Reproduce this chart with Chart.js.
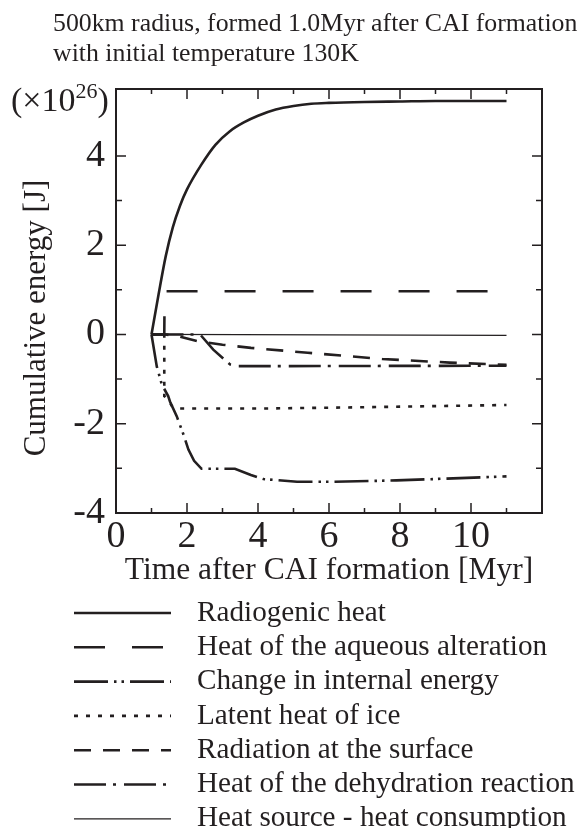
<!DOCTYPE html>
<html>
<head>
<meta charset="utf-8">
<title>Cumulative energy</title>
<script src="https://cdn.jsdelivr.net/npm/chart.js@4/dist/chart.umd.min.js"></script>
<style>
  html, body { margin: 0; padding: 0; background: #fff; }
  #wrap { width: 579px; height: 828px; position: relative; }
</style>
</head>
<body>
<div id="wrap"><canvas id="energyChart"></canvas></div>
<script>
// ---- data (energy in 1e26 J, time in Myr) ----
const radioT = [1.0, 1.2, 1.4, 1.6, 1.8, 2.0, 2.4, 2.8, 3.2, 3.6, 4.0, 4.5, 5.0, 5.5, 6.0, 7.0, 8.0, 9.0, 10.0, 11.0];
const radioE = [0, 0.9, 1.75, 2.4, 2.88, 3.25, 3.8, 4.25, 4.55, 4.75, 4.9, 5.04, 5.12, 5.17, 5.19, 5.21, 5.22, 5.23, 5.23, 5.23];

const aqueousT = [1.0, 1.36, 1.37, 11.0];
const aqueousE = [0, 0, 0.97, 0.97];

const internalT = [1.0, 1.15, 1.29, 1.47, 1.52, 1.71, 1.9, 2.04, 2.2, 2.41, 3.35, 3.8, 4.15, 5.1, 6.1, 7.9, 11.0];
const internalE = [0, -0.72, -1.12, -1.38, -1.5, -1.83, -2.24, -2.58, -2.83, -3.01, -3.01, -3.15, -3.24, -3.3, -3.3, -3.27, -3.18];

const iceT = [1.0, 1.36, 1.36, 1.47, 1.57, 1.7, 4.0, 7.0, 11.0];
const iceE = [0, 0, -1.38, -1.46, -1.6, -1.66, -1.66, -1.63, -1.58];

const surfaceT = [1.0, 1.4, 1.8, 2.3, 3.0, 3.8, 5.4, 7.5, 9.4, 11.0];
const surfaceE = [0, 0, -0.05, -0.15, -0.23, -0.3, -0.41, -0.55, -0.63, -0.68];

const dehydT = [1.0, 2.37, 2.74, 3.21, 3.4, 11.0];
const dehydE = [0, 0, -0.34, -0.67, -0.71, -0.70];

const netT = [1.0, 11.0];
const netE = [0, -0.02];

const xTickLabels = [0, 2, 4, 6, 8, 10];
const yTickLabels = [-4, -2, 0, 2, 4];

const titleLines = ['500km radius, formed 1.0Myr after CAI formation', 'with initial temperature 130K'];
const seriesNames = [
  'Radiogenic heat',
  'Heat of the aqueous alteration',
  'Change in internal energy',
  'Latent heat of ice',
  'Radiation at the surface',
  'Heat of the dehydration reaction',
  'Heat source - heat consumption'
];

const ink = '#231f20';
const serif = "'Liberation Serif', 'Times New Roman', serif";

const pts = (t, e) => t.map((v, i) => ({ x: v, y: e[i] }));

const datasets = [
  { label: seriesNames[0], data: pts(radioT, radioE), borderWidth: 2.6, borderDash: [], cubicInterpolationMode: 'monotone' },
  { label: seriesNames[1], data: pts(aqueousT, aqueousE), borderWidth: 2.6, borderDash: [31, 27] },
  { label: seriesNames[2], data: pts(internalT, internalE), borderWidth: 2.6, borderDash: [34, 6, 2.5, 5, 2.5, 6] },
  { label: seriesNames[3], data: pts(iceT, iceE), borderWidth: 2.6, borderDash: [4, 8] },
  { label: seriesNames[4], data: pts(surfaceT, surfaceE), borderWidth: 2.6, borderDash: [17, 12] },
  { label: seriesNames[5], data: pts(dehydT, dehydE), borderWidth: 2.6, borderDash: [32, 7, 3, 8] },
  { label: seriesNames[6], data: pts(netT, netE), borderWidth: 1.2, borderDash: [] }
].map(d => Object.assign({ borderColor: ink, backgroundColor: ink, pointRadius: 0, fill: false, tension: 0 }, d));

/* ---------- frame, inward ticks, title, y title, multiplier and legend ---------- */
const decorations = {
  id: 'decorations',
  afterDraw(chart) {
    const { ctx, chartArea: a, scales: { x, y } } = chart;
    ctx.save();
    ctx.strokeStyle = ink;
    ctx.fillStyle = ink;
    ctx.setLineDash([]);

    // frame
    ctx.lineWidth = 2;
    ctx.strokeRect(a.left, a.top, a.right - a.left, a.bottom - a.top);

    // inward ticks
    ctx.lineWidth = 1.5;
    x.ticks.forEach(t => {
      if (!Number.isInteger(t.value)) return;
      const px = x.getPixelForValue(t.value);
      const len = t.value % 2 === 0 ? 10 : 5;
      ctx.beginPath();
      ctx.moveTo(px, a.bottom); ctx.lineTo(px, a.bottom - len);
      ctx.moveTo(px, a.top); ctx.lineTo(px, a.top + len);
      ctx.stroke();
    });
    y.ticks.forEach(t => {
      if (!Number.isInteger(t.value)) return;
      const py = y.getPixelForValue(t.value);
      const len = t.value % 2 === 0 ? 10 : 6;
      ctx.beginPath();
      ctx.moveTo(a.left, py); ctx.lineTo(a.left + len, py);
      ctx.moveTo(a.right, py); ctx.lineTo(a.right - len, py);
      ctx.stroke();
    });

    // figure title
    ctx.font = '25.8px ' + serif;
    ctx.textAlign = 'left';
    ctx.textBaseline = 'alphabetic';
    ctx.fillText(titleLines[0], 53, 31);
    ctx.fillText(titleLines[1], 53, 61);

    // multiplier label at top of the y axis
    const my = y.getPixelForValue(5) - 9;
    ctx.textBaseline = 'middle';
    ctx.font = '34px ' + serif;
    let cx = 11;
    ctx.fillText('(\u00d710', cx, my);
    cx += ctx.measureText('(\u00d710').width;
    ctx.font = '22px ' + serif;
    ctx.fillText('26', cx, my - 10);
    cx += ctx.measureText('26').width;
    ctx.font = '34px ' + serif;
    ctx.fillText(')', cx, my);

    // y axis title
    ctx.save();
    ctx.translate(37, 318);
    ctx.rotate(-Math.PI / 2);
    ctx.textAlign = 'center';
    ctx.font = '31px ' + serif;
    ctx.fillText('Cumulative energy [J]', 0, 0);
    ctx.restore();

    // legend
    ctx.font = '29.2px ' + serif;
    ctx.textAlign = 'left';
    chart.data.datasets.forEach((ds, i) => {
      const ly = 613 + i * 34.3;
      ctx.lineWidth = ds.borderWidth;
      ctx.setLineDash(ds.borderDash);
      ctx.beginPath();
      ctx.moveTo(74, ly); ctx.lineTo(171, ly);
      ctx.stroke();
      ctx.setLineDash([]);
      ctx.fillText(ds.label, 197, ly);
    });
    ctx.restore();
  }
};

new Chart(document.getElementById('energyChart'), {
  type: 'line',
  data: { datasets },
  options: {
    responsive: true, maintainAspectRatio: false, animation: false,
    layout: { padding: { top: 89, right: 37, bottom: 238, left: 0 } },
    plugins: { legend: { display: false }, tooltip: { enabled: false } },
    scales: {
      x: {
        type: 'linear', min: 0, max: 12,
        grid: { display: false, drawTicks: false },
        border: { display: false },
        ticks: {
          stepSize: 1, padding: 1, color: ink, maxRotation: 0, autoSkip: false,
          font: { family: serif, size: 38 },
          callback: v => xTickLabels.includes(v) ? String(v) : ''
        },
        title: { display: true, text: 'Time after CAI formation [Myr]', color: ink, padding: 0, font: { family: serif, size: 31.5 } },
        afterFit: s => { s.height = 77; }
      },
      y: {
        type: 'linear', min: -4, max: 5.5,
        grid: { display: false, drawTicks: false },
        border: { display: false },
        ticks: {
          stepSize: 1, padding: 11, color: ink, autoSkip: false,
          font: { family: serif, size: 38 },
          callback: v => yTickLabels.includes(v) ? String(v) : ''
        },
        afterFit: s => { s.width = 116; }
      }
    }
  },
  plugins: [decorations]
});
</script>
</body>
</html>
